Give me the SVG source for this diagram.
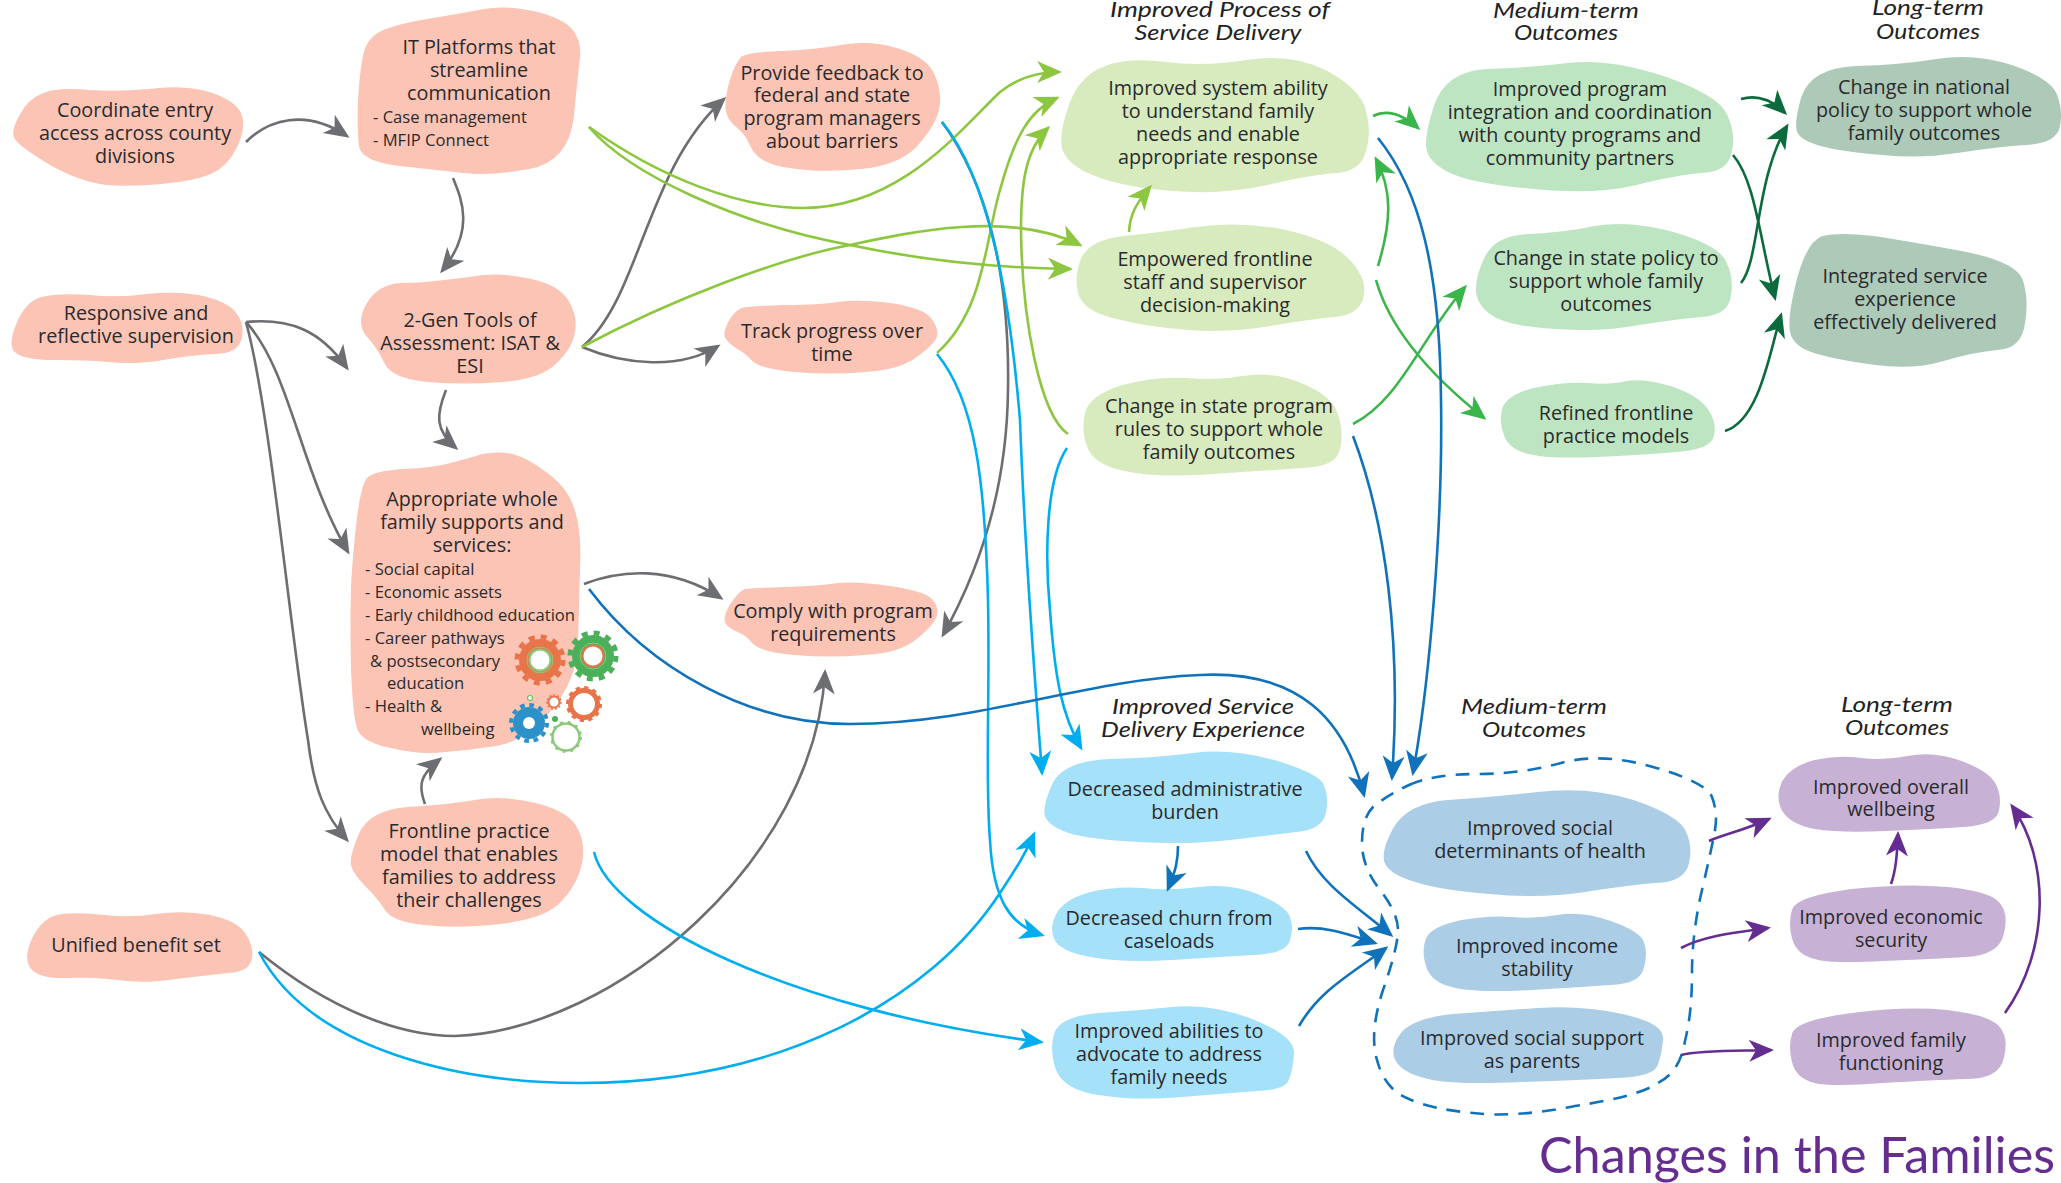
<svg xmlns="http://www.w3.org/2000/svg" width="2061" height="1183" viewBox="0 0 2061 1183">
<style>
text{font-family:"Open Sans","Noto Sans",sans-serif;fill:#2a2a2c;font-size:19.8px}
.n{text-anchor:middle}
.s{font-size:16.6px}
.h{font-family:"Lato","Open Sans",sans-serif;font-style:italic;text-anchor:middle;font-size:22px;fill:#222}
.title{font-family:"Lato","Open Sans",sans-serif;font-size:51px;fill:#662d91}
.peach{fill:#fbc4b5;stroke:#fbc4b5}.lime{fill:#d7ebbf;stroke:#d7ebbf}.mint{fill:#bde5c1;stroke:#bde5c1}.sage{fill:#adc9b8;stroke:#adc9b8}.sky{fill:#a6e1fa;stroke:#a6e1fa}.steel{fill:#abcee6;stroke:#abcee6}.lav{fill:#c7b2d6;stroke:#c7b2d6}
.peach,.lime,.mint,.sage,.sky,.steel,.lav{stroke-width:4;stroke-linejoin:round}
.c{fill:none;stroke-width:2.6}
.cg{stroke:#6d6e71;marker-end:url(#ag)}
.cl{stroke:#8dc63f;marker-end:url(#al)}
.cn{stroke:#39b54a;marker-end:url(#an)}
.cd{stroke:#0b6b3c;marker-end:url(#ad)}
.cc{stroke:#00aeef;marker-end:url(#ac)}
.cb{stroke:#1072ba;marker-end:url(#ab)}
.cp{stroke:#662d91;marker-end:url(#ap)}
</style>
<defs>
<marker id="ag" viewBox="-24 -12 28 24" markerWidth="28" markerHeight="24" markerUnits="userSpaceOnUse" orient="auto"><path fill="#6d6e71" d="M3,0L-22,-11L-15,0L-22,11Z"/></marker>
<marker id="al" viewBox="-24 -12 28 24" markerWidth="28" markerHeight="24" markerUnits="userSpaceOnUse" orient="auto"><path fill="#8dc63f" d="M3,0L-22,-11L-15,0L-22,11Z"/></marker>
<marker id="an" viewBox="-24 -12 28 24" markerWidth="28" markerHeight="24" markerUnits="userSpaceOnUse" orient="auto"><path fill="#39b54a" d="M3,0L-22,-11L-15,0L-22,11Z"/></marker>
<marker id="ad" viewBox="-24 -12 28 24" markerWidth="28" markerHeight="24" markerUnits="userSpaceOnUse" orient="auto"><path fill="#0b6b3c" d="M3,0L-22,-11L-15,0L-22,11Z"/></marker>
<marker id="ac" viewBox="-24 -12 28 24" markerWidth="28" markerHeight="24" markerUnits="userSpaceOnUse" orient="auto"><path fill="#00aeef" d="M3,0L-22,-11L-15,0L-22,11Z"/></marker>
<marker id="ab" viewBox="-24 -12 28 24" markerWidth="28" markerHeight="24" markerUnits="userSpaceOnUse" orient="auto"><path fill="#1072ba" d="M3,0L-22,-11L-15,0L-22,11Z"/></marker>
<marker id="ap" viewBox="-24 -12 28 24" markerWidth="28" markerHeight="24" markerUnits="userSpaceOnUse" orient="auto"><path fill="#662d91" d="M3,0L-22,-11L-15,0L-22,11Z"/></marker>
</defs>
<rect width="2061" height="1183" fill="#fff"/>

<g id="n-coordinate"><path class="peach" d="M22,115Q30,100 44,95Q58,89 89,92Q120,94 149,91Q178,87 201,92Q223,97 234,107Q245,117 239,137Q232,157 219,167Q205,177 170,181Q134,185 107,183Q80,180 49,162Q18,143 16,137Q13,130 22,115Z"/><text class="n"><tspan x="135" y="117">Coordinate entry</tspan><tspan x="135" y="140">access across county</tspan><tspan x="135" y="163">divisions</tspan></text></g>
<g id="n-it"><path class="peach" d="M386,31Q402,25 433,20Q464,15 484,11Q504,7 533,13Q562,20 571,31Q580,43 578,58Q576,73 572,116Q567,160 529,167Q491,174 464,171Q437,168 400,164Q364,160 361,146Q359,133 360,100Q362,67 366,52Q370,37 386,31Z"/><text class="n"><tspan x="479" y="54">IT Platforms that</tspan><tspan x="479" y="77">streamline</tspan><tspan x="479" y="100">communication</tspan></text><text class="s"><tspan x="373" y="123">- Case management</tspan><tspan x="373" y="146">- MFIP Connect</tspan></text></g>
<g id="n-2gen"><path class="peach" d="M401,285Q424,285 444,282Q464,280 484,277Q504,275 531,281Q558,287 567,302Q576,317 573,332Q571,347 555,362Q540,377 502,380Q464,383 428,380Q393,377 386,362Q379,347 368,335Q358,323 368,305Q379,286 401,285Z"/><text class="n"><tspan x="470" y="327">2-Gen Tools of</tspan><tspan x="470" y="350">Assessment: ISAT &amp;</tspan><tspan x="470" y="373">ESI</tspan></text></g>
<g id="n-responsive"><path class="peach" d="M18,325Q27,303 42,299Q58,295 89,297Q120,300 147,296Q174,293 198,297Q223,302 233,312Q243,323 240,337Q237,352 214,352Q192,353 163,358Q134,363 109,360Q85,358 56,358Q27,358 18,352Q9,347 18,325Z"/><text class="n"><tspan x="136" y="320">Responsive and</tspan><tspan x="136" y="343">reflective supervision</tspan></text></g>
<g id="n-supports"><path class="peach" d="M368,480Q373,473 403,471Q433,470 451,465Q470,460 483,456Q497,453 512,456Q527,460 547,475Q567,490 573,511Q580,533 578,570Q577,607 576,643Q575,680 549,710Q523,740 496,744Q470,748 445,750Q420,753 391,746Q363,740 359,728Q355,717 353,670Q352,623 353,586Q355,550 359,518Q363,487 368,480Z"/>
<text class="n"><tspan x="472" y="506">Appropriate whole</tspan><tspan x="472" y="529">family supports and</tspan><tspan x="472" y="552">services:</tspan></text>
<text class="s"><tspan x="365" y="575">- Social capital</tspan><tspan x="365" y="598">- Economic assets</tspan><tspan x="365" y="621">- Early childhood education</tspan><tspan x="365" y="644">- Career pathways</tspan><tspan x="370" y="667">&amp; postsecondary</tspan><tspan x="387" y="689">education</tspan><tspan x="365" y="712">- Health &amp;</tspan><tspan x="421" y="735">wellbeing</tspan></text>
<circle cx="540" cy="660" r="21" fill="#e8744a"/><circle cx="540" cy="660" r="23" fill="none" stroke="#e8744a" stroke-width="5" stroke-dasharray="6 6.04"/><circle cx="540" cy="660" r="10.5" fill="#fff" stroke="#8cc97a" stroke-width="2"/><circle cx="540" cy="660" r="13" fill="none" stroke="#8cc97a" stroke-width="1"/>
<circle cx="593" cy="656" r="21" fill="#4caf5a"/><circle cx="593" cy="656" r="23" fill="none" stroke="#4caf5a" stroke-width="5" stroke-dasharray="6 6.04"/><circle cx="593" cy="656" r="10.5" fill="#fff" stroke="#e8744a" stroke-width="2"/><circle cx="593" cy="656" r="13" fill="none" stroke="#8cc97a" stroke-width="1"/>
<circle cx="529" cy="723" r="16" fill="#2a92c9"/><circle cx="529" cy="723" r="18" fill="none" stroke="#2a92c9" stroke-width="4" stroke-dasharray="4.7 4.7"/><circle cx="529" cy="723" r="6" fill="#fff"/>
<circle cx="584" cy="704" r="13.5" fill="#fff" stroke="#e8744a" stroke-width="5"/><circle cx="584" cy="704" r="16.5" fill="none" stroke="#e8744a" stroke-width="3" stroke-dasharray="4.3 4.3"/>
<circle cx="554" cy="702" r="5.5" fill="#fff" stroke="#e8744a" stroke-width="2"/><circle cx="554" cy="702" r="7" fill="none" stroke="#e8744a" stroke-width="1.5" stroke-dasharray="2 2"/>
<circle cx="530" cy="698" r="2.5" fill="#fff" stroke="#6fbf5f" stroke-width="1.2"/><circle cx="555" cy="719" r="3" fill="#4caf5a"/>
<circle cx="566" cy="737" r="13.5" fill="#fff" stroke="#8cc97a" stroke-width="2.5"/><circle cx="566" cy="737" r="15" fill="none" stroke="#8cc97a" stroke-width="2" stroke-dasharray="3 5"/></g>
<g id="n-frontline"><path class="peach" d="M361,834Q371,812 408,809Q446,807 475,802Q504,797 535,805Q567,813 575,828Q584,843 580,863Q576,883 560,900Q545,917 500,922Q455,927 424,923Q393,920 386,908Q379,897 367,885Q355,873 353,865Q351,857 361,834Z"/><text class="n"><tspan x="469" y="838">Frontline practice</tspan><tspan x="469" y="861">model that enables</tspan><tspan x="469" y="884">families to address</tspan><tspan x="469" y="907">their challenges</tspan></text></g>
<g id="n-unified"><path class="peach" d="M35,937Q45,918 62,916Q80,914 104,917Q129,920 156,916Q183,912 210,917Q237,923 244,935Q252,947 250,958Q248,970 229,971Q210,973 176,977Q143,982 118,978Q94,975 67,976Q40,977 32,967Q25,957 35,937Z"/><text class="n"><tspan x="136" y="952">Unified benefit set</tspan></text></g>
<g id="n-provide"><path class="peach" d="M731,83Q737,63 743,58Q750,54 781,53Q813,52 841,47Q870,42 896,50Q923,58 931,72Q939,87 938,103Q937,120 919,141Q902,163 861,167Q820,171 790,166Q760,162 753,147Q747,133 738,126Q730,120 728,111Q726,103 731,83Z"/><text class="n"><tspan x="832" y="80">Provide feedback to</tspan><tspan x="832" y="102">federal and state</tspan><tspan x="832" y="125">program managers</tspan><tspan x="832" y="148">about barriers</tspan></text></g>
<g id="n-track"><path class="peach" d="M730,323Q735,313 742,310Q750,308 785,307Q820,307 838,304Q857,301 890,305Q923,310 930,320Q937,330 935,336Q933,343 916,355Q900,368 865,370Q830,373 795,370Q760,367 753,359Q747,352 738,347Q730,342 727,337Q725,333 730,323Z"/><text class="n"><tspan x="832" y="338">Track progress over</tspan><tspan x="832" y="361">time</tspan></text></g>
<g id="n-comply"><path class="peach" d="M732,605Q740,593 745,591Q750,590 785,589Q820,588 838,585Q857,583 890,588Q923,593 930,600Q937,607 935,615Q933,623 916,637Q900,651 865,653Q830,656 795,653Q760,650 753,641Q747,633 738,630Q730,627 727,622Q725,617 732,605Z"/><text class="n"><tspan x="833" y="618">Comply with program</tspan><tspan x="833" y="641">requirements</tspan></text></g>

<g id="n-system"><path class="lime" d="M1071,105Q1081,77 1105,68Q1129,59 1166,64Q1203,69 1247,62Q1291,55 1325,72Q1359,90 1364,111Q1370,133 1364,151Q1359,170 1335,171Q1311,173 1267,183Q1223,193 1172,189Q1122,185 1095,174Q1068,163 1064,148Q1061,133 1071,105Z"/><text class="n"><tspan x="1218" y="95">Improved system ability</tspan><tspan x="1218" y="118">to understand family</tspan><tspan x="1218" y="141">needs and enable</tspan><tspan x="1218" y="164">appropriate response</tspan></text></g>
<g id="n-empowered"><path class="lime" d="M1083,259Q1091,242 1123,238Q1156,235 1196,229Q1237,223 1281,231Q1325,240 1345,258Q1365,277 1362,295Q1359,313 1335,315Q1311,317 1270,324Q1230,331 1189,328Q1149,325 1117,317Q1085,310 1080,293Q1076,277 1083,259Z"/><text class="n"><tspan x="1215" y="266">Empowered frontline</tspan><tspan x="1215" y="289">staff and supervisor</tspan><tspan x="1215" y="312">decision-making</tspan></text></g>
<g id="n-rules"><path class="lime" d="M1087,413Q1091,397 1123,387Q1156,378 1186,380Q1216,383 1243,378Q1271,373 1301,385Q1331,397 1336,415Q1342,433 1338,449Q1335,465 1303,466Q1271,468 1213,472Q1156,476 1125,469Q1095,463 1089,446Q1083,430 1087,413Z"/><text class="n"><tspan x="1219" y="413">Change in state program</tspan><tspan x="1219" y="436">rules to support whole</tspan><tspan x="1219" y="459">family outcomes</tspan></text></g>
<g id="n-integration"><path class="mint" d="M1436,106Q1447,73 1487,71Q1528,70 1568,65Q1609,60 1663,78Q1717,97 1725,115Q1734,133 1730,151Q1727,170 1702,171Q1677,173 1636,183Q1595,193 1534,187Q1474,182 1453,172Q1433,163 1429,151Q1425,140 1436,106Z"/><text class="n"><tspan x="1580" y="96">Improved program</tspan><tspan x="1580" y="119">integration and coordination</tspan><tspan x="1580" y="142">with county programs and</tspan><tspan x="1580" y="165">community partners</tspan></text></g>
<g id="n-statepolicy"><path class="mint" d="M1487,257Q1497,237 1529,236Q1562,235 1595,228Q1629,222 1673,234Q1717,247 1724,262Q1732,277 1729,295Q1727,313 1702,315Q1677,317 1639,323Q1602,330 1558,327Q1514,325 1497,316Q1480,307 1478,292Q1477,277 1487,257Z"/><text class="n"><tspan x="1606" y="265">Change in state policy to</tspan><tspan x="1606" y="288">support whole family</tspan><tspan x="1606" y="311">outcomes</tspan></text></g>
<g id="n-refined"><path class="mint" d="M1504,410Q1507,397 1534,390Q1562,384 1587,385Q1612,387 1627,383Q1643,380 1670,388Q1697,397 1706,410Q1715,423 1712,435Q1710,448 1676,450Q1643,453 1595,455Q1548,457 1529,452Q1511,448 1506,435Q1501,423 1504,410Z"/><text class="n"><tspan x="1616" y="420">Refined frontline</tspan><tspan x="1616" y="443">practice models</tspan></text></g>
<g id="n-national"><path class="sage" d="M1803,98Q1812,70 1856,68Q1900,67 1937,61Q1974,55 2011,67Q2049,80 2055,95Q2061,110 2058,126Q2055,142 2025,143Q1995,145 1957,151Q1920,157 1883,153Q1846,150 1825,145Q1805,140 1800,133Q1795,127 1803,98Z"/><text class="n"><tspan x="1924" y="94">Change in national</tspan><tspan x="1924" y="117">policy to support whole</tspan><tspan x="1924" y="140">family outcomes</tspan></text></g>
<g id="n-integrated"><path class="sage" d="M1798,283Q1808,243 1823,238Q1839,234 1873,238Q1907,243 1961,253Q2015,263 2021,281Q2027,300 2023,323Q2020,347 1997,348Q1974,350 1943,359Q1913,368 1876,363Q1839,358 1818,352Q1798,347 1793,335Q1788,323 1798,283Z"/><text class="n"><tspan x="1905" y="283">Integrated service</tspan><tspan x="1905" y="306">experience</tspan><tspan x="1905" y="329">effectively delivered</tspan></text></g>

<g id="n-burden"><path class="sky" d="M1054,785Q1064,763 1110,761Q1156,760 1193,755Q1230,750 1274,762Q1318,775 1322,786Q1327,797 1324,812Q1321,828 1296,830Q1271,833 1230,838Q1189,843 1138,840Q1088,837 1069,831Q1051,825 1047,816Q1044,807 1054,785Z"/><text class="n"><tspan x="1185" y="796">Decreased administrative</tspan><tspan x="1185" y="819">burden</tspan></text></g>
<g id="n-churn"><path class="sky" d="M1059,913Q1068,900 1091,894Q1115,888 1142,890Q1169,893 1199,889Q1230,885 1257,896Q1284,907 1288,917Q1292,928 1288,940Q1284,952 1253,953Q1223,955 1172,958Q1122,961 1091,955Q1061,950 1056,938Q1051,927 1059,913Z"/><text class="n"><tspan x="1169" y="925">Decreased churn from</tspan><tspan x="1169" y="948">caseloads</tspan></text></g>
<g id="n-abilities"><path class="sky" d="M1057,1032Q1064,1018 1099,1015Q1135,1013 1172,1009Q1210,1005 1252,1021Q1294,1038 1292,1054Q1291,1070 1287,1079Q1284,1088 1257,1089Q1230,1091 1182,1095Q1135,1099 1099,1093Q1064,1088 1057,1067Q1051,1047 1057,1032Z"/><text class="n"><tspan x="1169" y="1038">Improved abilities to</tspan><tspan x="1169" y="1061">advocate to address</tspan><tspan x="1169" y="1084">family needs</tspan></text></g>
<g id="n-determinants"><path class="steel" d="M1395,829Q1409,805 1448,802Q1487,800 1538,794Q1589,788 1633,802Q1677,817 1684,832Q1691,847 1687,863Q1683,880 1656,881Q1629,883 1585,890Q1541,897 1490,892Q1440,888 1416,880Q1392,873 1387,863Q1382,853 1395,829Z"/><text class="n"><tspan x="1540" y="835">Improved social</tspan><tspan x="1540" y="858">determinants of health</tspan></text></g>
<g id="n-income"><path class="steel" d="M1428,939Q1433,928 1462,922Q1491,917 1512,919Q1534,921 1558,917Q1582,913 1610,923Q1639,933 1642,943Q1646,953 1642,967Q1639,982 1610,983Q1582,985 1531,988Q1480,991 1456,986Q1433,982 1428,966Q1423,950 1428,939Z"/><text class="n"><tspan x="1537" y="953">Improved income</tspan><tspan x="1537" y="976">stability</tspan></text></g>
<g id="n-support"><path class="steel" d="M1402,1035Q1413,1020 1453,1016Q1494,1013 1538,1010Q1582,1007 1622,1016Q1663,1025 1661,1039Q1660,1053 1656,1064Q1653,1075 1617,1076Q1582,1078 1521,1080Q1460,1083 1433,1078Q1406,1073 1398,1061Q1391,1050 1402,1035Z"/><text class="n"><tspan x="1532" y="1045">Improved social support</tspan><tspan x="1532" y="1068">as parents</tspan></text></g>
<g id="n-wellbeing"><path class="lav" d="M1784,782Q1792,768 1815,762Q1839,757 1861,760Q1883,763 1908,758Q1934,753 1961,763Q1988,773 1994,785Q2000,797 1997,810Q1995,823 1964,825Q1934,827 1886,829Q1839,831 1815,827Q1792,823 1784,810Q1777,797 1784,782Z"/><text class="n"><tspan x="1891" y="794">Improved overall</tspan><tspan x="1891" y="816">wellbeing</tspan></text></g>
<g id="n-economic"><path class="lav" d="M1794,910Q1798,898 1852,891Q1907,885 1947,889Q1988,893 1997,903Q2007,913 2002,933Q1998,953 1966,955Q1934,957 1883,959Q1832,962 1815,957Q1798,953 1794,938Q1790,923 1794,910Z"/><text class="n"><tspan x="1891" y="924">Improved economic</tspan><tspan x="1891" y="947">security</tspan></text></g>
<g id="n-family"><path class="lav" d="M1794,1034Q1798,1022 1852,1015Q1907,1008 1947,1012Q1988,1017 1997,1027Q2007,1037 2002,1057Q1998,1077 1966,1077Q1934,1078 1883,1081Q1832,1085 1815,1081Q1798,1077 1794,1062Q1790,1047 1794,1034Z"/><text class="n"><tspan x="1891" y="1047">Improved family</tspan><tspan x="1891" y="1070">functioning</tspan></text></g>

<g id="headings">
<text class="h" x="1220" y="17" textLength="220" lengthAdjust="spacingAndGlyphs">Improved Process of</text><text class="h" x="1218" y="40" textLength="167" lengthAdjust="spacingAndGlyphs">Service Delivery</text>
<text class="h" x="1566" y="18" textLength="146" lengthAdjust="spacingAndGlyphs">Medium-term</text><text class="h" x="1566" y="40" textLength="104" lengthAdjust="spacingAndGlyphs">Outcomes</text>
<text class="h" x="1928" y="15" textLength="112" lengthAdjust="spacingAndGlyphs">Long-term</text><text class="h" x="1928" y="39" textLength="104" lengthAdjust="spacingAndGlyphs">Outcomes</text>
<text class="h" x="1203" y="714" textLength="182" lengthAdjust="spacingAndGlyphs">Improved Service</text><text class="h" x="1203" y="737" textLength="204" lengthAdjust="spacingAndGlyphs">Delivery Experience</text>
<text class="h" x="1534" y="714" textLength="146" lengthAdjust="spacingAndGlyphs">Medium-term</text><text class="h" x="1534" y="737" textLength="104" lengthAdjust="spacingAndGlyphs">Outcomes</text>
<text class="h" x="1897" y="712" textLength="112" lengthAdjust="spacingAndGlyphs">Long-term</text><text class="h" x="1897" y="735" textLength="104" lengthAdjust="spacingAndGlyphs">Outcomes</text>
<text class="title" x="1539" y="1173" textLength="516" lengthAdjust="spacingAndGlyphs">Changes in the Families</text>
</g>

<path id="cluster" fill="none" stroke="#1072ba" stroke-width="2.6" stroke-dasharray="14 10" d="M1409,785Q1433,774 1477,774Q1521,774 1561,763Q1602,752 1653,767Q1706,782 1712,797Q1718,813 1715,830Q1712,847 1702,890Q1692,933 1692,973Q1692,1013 1685,1041Q1680,1072 1658,1083Q1640,1096 1575,1106Q1514,1118 1473,1113Q1430,1109 1409,1099Q1385,1090 1377,1060Q1369,1033 1383,990Q1398,947 1398,930Q1398,913 1380,890Q1362,867 1362,843Q1362,818 1373,807Q1386,796 1409,785Z"/>

<g id="connectors">
<path class="c cg" d="M246,142C268,120 305,108 347,136"/>
<path class="c cg" d="M453,178C462,200 475,230 442,271"/>
<path class="c cg" d="M446,390C436,415 435,430 456,448"/>
<path class="c cg" d="M246,322C290,318 320,330 347,368"/>
<path class="c cg" d="M246,322C290,370 300,470 348,552"/>
<path class="c cg" d="M246,322C270,410 290,630 308,740C314,790 325,815 347,840"/>
<path class="c cg" d="M425,804C418,785 420,775 440,759"/>
<path class="c cg" d="M584,584C620,570 670,565 721,598"/>
<path class="c cg" d="M582,347C640,300 645,170 724,99"/>
<path class="c cg" d="M582,347C625,365 680,370 718,346"/>
<path class="c cg" d="M942,122C985,180 1010,270 1008,390C1007,480 985,560 943,635"/>
<path class="c cg" d="M259,952C330,1010 400,1036 455,1036C615,1030 815,860 825,672"/>
<path class="c cl" d="M589,127C660,178 740,208 803,208C900,208 960,130 1000,92C1020,76 1040,72 1059,72"/>
<path class="c cl" d="M589,127C630,175 740,225 850,245C920,260 1000,268 1070,269"/>
<path class="c cl" d="M582,347C670,300 780,258 850,245C910,232 1010,210 1080,245"/>
<path class="c cl" d="M937,353C985,310 985,240 1000,190C1015,135 1030,110 1057,98"/>
<path class="c cl" d="M1068,434C1040,415 1022,320 1021,230C1021,185 1025,150 1048,128"/>
<path class="c cl" d="M1129,232C1130,215 1135,205 1150,187"/>
<path class="c cn" d="M1373,116C1385,110 1400,112 1418,128"/>
<path class="c cn" d="M1378,266C1392,220 1392,190 1376,159"/>
<path class="c cn" d="M1376,280C1390,330 1430,375 1484,418"/>
<path class="c cn" d="M1353,424C1400,400 1420,340 1465,287"/>
<path class="c cd" d="M1741,99C1755,95 1770,98 1785,113"/>
<path class="c cd" d="M1733,155C1755,180 1760,240 1775,298"/>
<path class="c cd" d="M1741,283C1760,260 1755,180 1787,126"/>
<path class="c cd" d="M1725,431C1760,420 1770,350 1781,315"/>
<path class="c cc" d="M942,122C990,180 1010,300 1020,420C1025,560 1035,680 1042,773"/>
<path class="c cc" d="M937,354C975,400 985,480 988,600C990,700 985,780 990,840C993,900 1010,925 1042,935"/>
<path class="c cc" d="M1067,448C1045,480 1045,560 1050,610C1055,680 1062,715 1081,748"/>
<path class="c cc" d="M594,852C610,920 790,1010 1041,1042"/>
<path class="c cc" d="M259,952C310,1050 460,1083 580,1083C780,1083 930,1000 1000,893C1015,870 1025,855 1034,834"/>
<path class="c cb" d="M1378,138C1420,190 1440,270 1441,400C1443,520 1430,680 1413,773"/>
<path class="c cb" d="M1353,436C1385,520 1402,640 1392,778"/>
<path class="c cb" d="M589,589C650,670 750,724 850,724C980,724 1080,680 1200,675C1300,670 1345,720 1364,795"/>
<path class="c cb" d="M1178,846C1178,860 1176,870 1168,889"/>
<path class="c cb" d="M1306,851C1322,885 1355,905 1391,935"/>
<path class="c cb" d="M1298,929C1325,925 1350,935 1375,943"/>
<path class="c cb" d="M1299,1026C1320,990 1350,975 1386,948"/>
<path class="c cp" d="M1709,841C1722,835 1745,830 1769,819"/>
<path class="c cp" d="M1681,948C1705,935 1740,932 1768,928"/>
<path class="c cp" d="M1681,1055C1700,1050 1740,1051 1771,1050"/>
<path class="c cp" d="M1891,884C1896,870 1897,855 1898,834"/>
<path class="c cp" d="M2005,1013C2050,950 2050,860 2012,806"/>
</g>
</svg>
